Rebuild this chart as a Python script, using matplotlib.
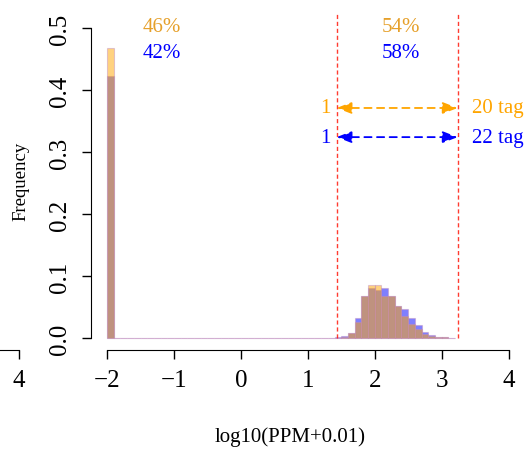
import numpy as np
import matplotlib
matplotlib.use("Agg")
import matplotlib.pyplot as plt

plt.rcParams['font.family'] = ['Liberation Serif', 'DejaVu Serif']

# histogram bins (left edges, width 0.1) and relative frequencies
bin_width = 0.1
bin_left = np.round(np.arange(-2.0, 3.2, bin_width), 1)
# orange sample: spike at -2, then a bump between 1.5 and 3.2
freq_orange = ([0.467] + [0.0] * 33 +
               [0.0, 0.002, 0.008, 0.026, 0.067, 0.086, 0.086, 0.068, 0.067,
                0.051, 0.035, 0.023, 0.015, 0.0065, 0.004, 0.002, 0.001, 0.0005])
freq_blue = ([0.423] + [0.0] * 33 +
             [0.001, 0.003, 0.008, 0.032, 0.067, 0.081, 0.078, 0.081, 0.067,
              0.052, 0.046, 0.033, 0.021, 0.010, 0.005, 0.002, 0.001, 0.0005])

cut_low = 1.43
cut_high = 3.24
pct_orange = ["46%", "54%"]
pct_blue = ["42%", "58%"]
tags_orange = ["1", "20 tag"]
tags_blue = ["1", "22 tag"]

xticks = [-2, -1, 0, 1, 2, 3, 4]
yticks = [0.0, 0.1, 0.2, 0.3, 0.4, 0.5]

W, H = 526, 456
fig = plt.figure(figsize=(W / 100, H / 100), dpi=100)

# plot region in pixels (R style, 4% axis extension)
left_px, right_px = 91, 524.6
top_px, bot_px = 16.6, 351.4
ax = fig.add_axes([left_px / W, 1 - bot_px / H,
                   (right_px - left_px) / W, (bot_px - top_px) / H])
ax.set_xlim(-2.24, 4.24)
ax.set_ylim(-0.02, 0.52)

edge = (0.75, 0.55, 0.75, 0.45)
ax.bar(bin_left, freq_blue, width=bin_width, align='edge',
       color=(0, 0, 1, 0.5), edgecolor=edge, linewidth=0.8)
ax.bar(bin_left, freq_orange, width=bin_width, align='edge',
       color=(1, 0.65, 0, 0.5), edgecolor=edge, linewidth=0.8)

# cutoff lines
for xc in [cut_low, cut_high]:
    ax.plot([xc, xc], [0, 0.525], color=(1, 0.1, 0.05, 0.85), lw=1,
            linestyle=(0, (3, 2)), clip_on=False)

# range arrows
for yv, col in [(0.371, 'orange'), (0.324, 'blue')]:
    ax.annotate('', xy=(cut_high, yv), xytext=(cut_low, yv),
                arrowprops=dict(arrowstyle='<|-|>,head_length=0.9,head_width=0.35',
                                color=col, lw=1.3, linestyle=(0, (4, 3)),
                                shrinkA=0, shrinkB=0))

txt_orange = '#E6A02A'
fs = 15
ax.text(-1.18, 0.503, pct_orange[0], color=txt_orange, fontsize=fs,
        ha='center', va='center')
ax.text(-1.18, 0.46, pct_blue[0], color='blue', fontsize=fs,
        ha='center', va='center')
ax.text(2.39, 0.503, pct_orange[1], color=txt_orange, fontsize=fs,
        ha='center', va='center')
ax.text(2.39, 0.46, pct_blue[1], color='blue', fontsize=fs,
        ha='center', va='center')

ax.text(1.26, 0.371, tags_orange[0], color='orange', fontsize=fs,
        ha='center', va='center')
ax.text(3.46, 0.371, tags_orange[1], color='orange', fontsize=fs,
        ha='left', va='center', clip_on=False)
ax.text(1.26, 0.324, tags_blue[0], color='blue', fontsize=fs,
        ha='center', va='center')
ax.text(3.46, 0.324, tags_blue[1], color='blue', fontsize=fs,
        ha='left', va='center', clip_on=False)

# axes in R style
for s in ['top', 'right']:
    ax.spines[s].set_visible(False)
ax.spines['left'].set_bounds(0, 0.5)
ax.spines['bottom'].set_bounds(-2, 4)
ax.set_xticks(xticks)
ax.set_xticklabels([str(v).replace('-', '\u2212') for v in xticks])
ax.set_yticks(yticks)
ax.set_yticklabels(['%.1f' % v for v in yticks], rotation=90, va='center')
ax.tick_params(axis='x', length=6.5, width=1, labelsize=18, pad=7)
ax.tick_params(axis='y', length=6.5, width=1, labelsize=18, pad=8)

ax.set_ylabel('Frequency', fontsize=13.5)
ax.yaxis.set_label_coords(-0.141, 0.509)
fig.text(290.5 / W, 1 - 437 / H, 'log10(PPM+0.01)', fontsize=15,
         ha='center', va='center')

# stub of the neighbouring panel's x axis on the far left
ax2 = fig.add_axes([0, 1 - bot_px / H, 19 / W, 0.01])
ax2.set_xlim(4 - 19 / 66.8, 4)
ax2.set_facecolor('none')
for s in ['top', 'right', 'left']:
    ax2.spines[s].set_visible(False)
ax2.set_yticks([])
ax2.set_xticks([4])
ax2.set_xticklabels(['4'])
ax2.tick_params(axis='x', length=6.5, width=1, labelsize=18, pad=7)

fig.savefig('out.png', dpi=100)
